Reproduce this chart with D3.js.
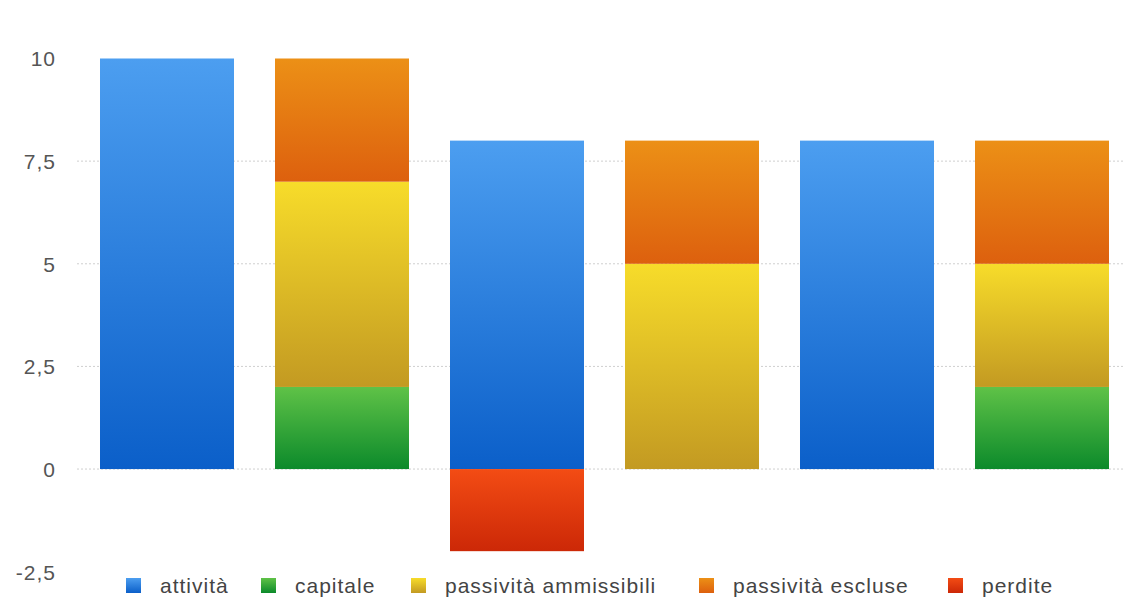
<!DOCTYPE html>
<html><head><meta charset="utf-8">
<script src="https://cdn.jsdelivr.net/npm/d3@7"></script>
<style>body{margin:0;background:#fff;}svg{display:block;font-family:"Liberation Sans",Arial,sans-serif;}</style>
</head><body><svg id="c" width="1123" height="599"></svg>
<script>
const categories = ["A","B","C","D","E","F"];
const seriesNames = ["attività","capitale","passività ammissibili","passività escluse","perdite"];
const attivita = [10, 0, 8, 0, 8, 0];
const capitale = [0, 2, 0, 0, 0, 2];
const passAmmissibili = [0, 5, 0, 5, 0, 3];
const passEscluse = [0, 3, 0, 3, 0, 3];
const perdite = [0, 0, -2, 0, 0, 0];
const tickValues = [-2.5, 0, 2.5, 5, 7.5, 10];
const tickLabels = ["-2,5","0","2,5","5","7,5","10"];
const gridValues = [0, 2.5, 5, 7.5];

const seriesValues = [attivita, capitale, passAmmissibili, passEscluse, perdite];
const colors = [
  ["#4c9ef0","#0b5fc9"],
  ["#5fc247","#0c8a2b"],
  ["#f7dc2a","#c39a22"],
  ["#ec9016","#dd600e"],
  ["#f34c14","#cc2807"]
];

const svg = d3.select("#c");
const W = 1123, H = 599;
const x = d3.scaleBand().domain(categories).range([79.5, 1129.5]).paddingInner(41/175).paddingOuter(20.5/175);
const y = d3.scaleLinear().domain([-2.5, 10]).range([571.7, 58.5]);

const defs = svg.append("defs");
colors.forEach((c,i)=>{
  const g = defs.append("linearGradient").attr("id","g"+i).attr("x1",0).attr("y1",0).attr("x2",0).attr("y2",1);
  g.append("stop").attr("offset","0%").attr("stop-color",c[0]);
  g.append("stop").attr("offset","100%").attr("stop-color",c[1]);
});

// gridlines
const grid = svg.append("g");
grid.selectAll("line").data(gridValues).join("line")
  .attr("x1", 77).attr("x2", W)
  .attr("y1", d=>y(d)).attr("y2", d=>y(d))
  .attr("stroke","#cfcfcf").attr("stroke-width",1).attr("stroke-dasharray","2,2");

// axis labels
const yAxis = d3.axisLeft(y).tickValues(tickValues).tickFormat((d,i)=>tickLabels[i]).tickSize(0).tickPadding(0);
const ag = svg.append("g").attr("transform","translate(56,0)").call(yAxis);
ag.select(".domain").remove();
ag.selectAll("text").attr("font-size",21).attr("letter-spacing","1px").attr("fill","#555")
  .attr("font-family","'Liberation Sans',Arial,sans-serif").attr("dy","0.35em");

// stacked bars
const segs = [];
categories.forEach((cat,ci)=>{
  let pos = 0, neg = 0;
  seriesValues.forEach((vals,si)=>{
    const v = vals[ci];
    if (v > 0) { segs.push({cat, si, y0: pos, y1: pos+v}); pos += v; }
    else if (v < 0) { segs.push({cat, si, y0: neg+v, y1: neg}); neg += v; }
  });
});
svg.append("g").selectAll("rect").data(segs).join("rect")
  .attr("x", d=>x(d.cat)).attr("width", x.bandwidth())
  .attr("y", d=>y(d.y1)).attr("height", d=>y(d.y0)-y(d.y1))
  .attr("fill", d=>"url(#g"+d.si+")");

// legend
const legendX = [126, 261, 411, 699, 948];
const lg = svg.append("g");
seriesNames.forEach((n,i)=>{
  lg.append("rect").attr("x",legendX[i]).attr("y",578).attr("width",15).attr("height",15).attr("fill","url(#g"+i+")");
  lg.append("text").attr("x",legendX[i]+34).attr("y",586).attr("dy","0.35em")
    .attr("font-size",21).attr("letter-spacing","1px").attr("fill","#444").text(n);
});
</script></body></html>
